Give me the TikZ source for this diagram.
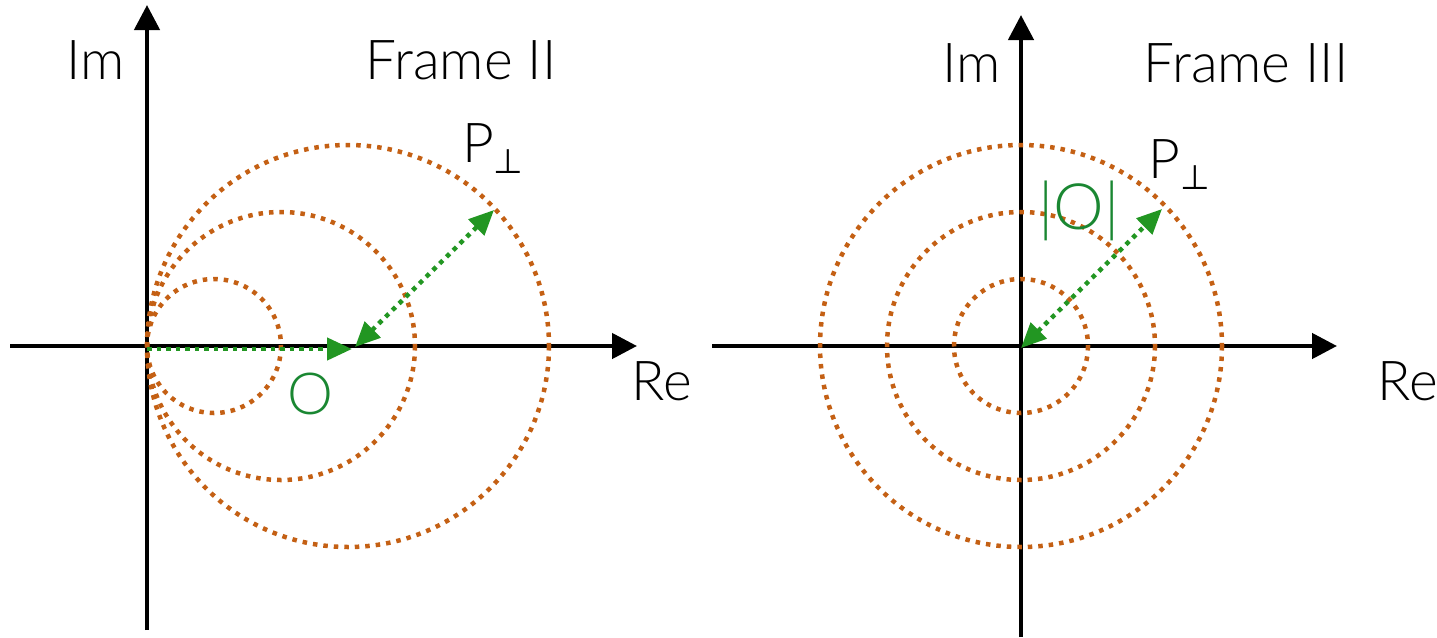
\documentclass[tikz,border=0pt]{standalone}
\usepackage{fontspec}
\setmainfont{Lato}[UprightFont=* Light]
\newfontfamily\symfont{DejaVu Sans}
\usetikzlibrary{arrows.meta}
\definecolor{orng}{RGB}{196,96,20}
\definecolor{grn}{RGB}{34,150,34}
\definecolor{grntxt}{RGB}{26,135,50}
\newcommand{\perpsub}{\raisebox{-11pt}{\fontsize{34}{34}\symfont ⊥}}
\begin{document}
\begin{tikzpicture}[x=1pt,y=-1pt,
  axis/.style={line width=4.5pt,-{Triangle[length=25pt,width=25pt]}},
  ring/.style={draw=orng,line width=4.5pt,dash pattern=on 4.5pt off 6pt},
  garrow/.style={draw=grn,line width=4.5pt,dash pattern=on 4.5pt off 5pt},
  gtip/.style={-{Triangle[length=25pt,width=22pt,fill=grn]}},
  gtips/.style={{Triangle[length=25pt,width=22pt,fill=grn]}-{Triangle[length=25pt,width=22pt,fill=grn]}},
  lbl/.style={font=\fontsize{55}{60}\selectfont,inner sep=0pt,anchor=base}]
\useasboundingbox (0,0) rectangle (1437,637);
% ---------- left panel ----------
\coordinate (LreS) at (10,346);
\coordinate (LreE) at (637,346);
\coordinate (LimS) at (147,630);
\coordinate (LimE) at (147,5);
\draw[axis] (LreS) -- (LreE);
\draw[axis] (LimS) -- (LimE);
\coordinate (Lc1) at (214,346);
\coordinate (Lc2) at (281,346);
\coordinate (Lc3) at (348,346);
\draw[ring] (Lc1) circle[radius=67];
\draw[ring] (Lc2) circle[radius=134];
\draw[ring] (Lc3) circle[radius=201];
\coordinate (Lo) at (147,349);
\coordinate (Lmid) at (352,349);
\coordinate (Lmid2) at (355,347);
\coordinate (Lp) at (494,210);
\draw[garrow,gtip] (Lo) -- (Lmid);
\draw[garrow,gtips] (Lmid2) -- (Lp);
\node[lbl] (imL) at (96,79) {Im};
\node[lbl] (frL) at (461,79) {Frame II};
\node[lbl] (reL) at (662,400) {Re};
\node[lbl,anchor=base west] (pL) at (462,162) {P\perpsub};
\node[lbl,text=grntxt,font=\fontsize{58}{60}\selectfont] (oL) at (310,414) {O};
% ---------- right panel ----------
\coordinate (RreS) at (712,346);
\coordinate (RreE) at (1337,346);
\coordinate (RimS) at (1021,637);
\coordinate (RimE) at (1021,15);
\draw[axis] (RreS) -- (RreE);
\draw[axis] (RimS) -- (RimE);
\coordinate (Rc) at (1021,346);
\draw[ring] (Rc) circle[radius=67];
\draw[ring] (Rc) circle[radius=134];
\draw[ring] (Rc) circle[radius=201];
\coordinate (Ro) at (1021,348);
\coordinate (Rp) at (1162,209);
\draw[garrow,gtips] (Ro) -- (Rp);
\node[lbl] (imR) at (972,82) {Im};
\node[lbl] (frR) at (1246,82) {Frame III};
\node[lbl] (reR) at (1408,400) {Re};
\node[lbl,anchor=base west] (pR) at (1148,178) {P\perpsub};
\node[lbl,text=grntxt,font=\fontsize{64}{66}\selectfont] (oR) at (1079,229) {|O|};
\end{tikzpicture}
\end{document}
